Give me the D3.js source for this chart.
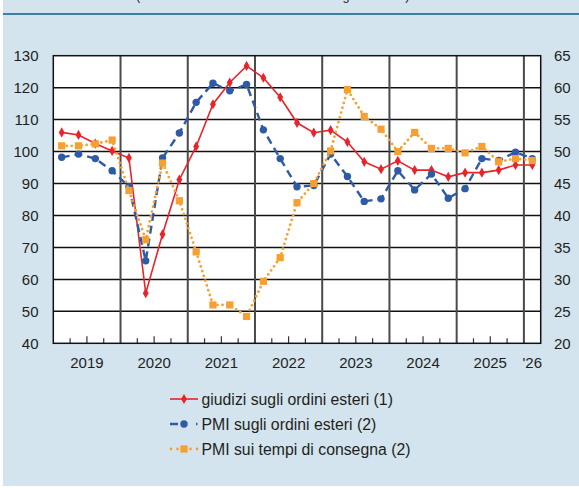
<!DOCTYPE html>
<html>
<head>
<meta charset="utf-8">
<script src="https://cdn.jsdelivr.net/npm/d3@7"></script>
<style>
body { margin: 0; background: #fff; }
text { font-family: "Liberation Sans", Arial, sans-serif; fill: #231f20; }
</style>
</head>
<body>
<script>
// dimensioni della finestra
var larg = 579;
var haut = 488;

// dati trimestrali, dal 1° trim. 2019 al 1° trim. 2026
var trimestri = ["2019T1","2019T2","2019T3","2019T4","2020T1","2020T2","2020T3","2020T4",
  "2021T1","2021T2","2021T3","2021T4","2022T1","2022T2","2022T3","2022T4",
  "2023T1","2023T2","2023T3","2023T4","2024T1","2024T2","2024T3","2024T4",
  "2025T1","2025T2","2025T3","2025T4","2026T1"];
// giudizi sugli ordini esteri (scala di sinistra)
var giudizi = [106.0,105.2,102.5,100.2,98.0,55.7,74.1,91.2,
  101.6,114.8,121.6,126.8,123.1,117.0,109.0,105.9,
  106.7,103.0,96.8,94.5,97.1,94.2,94.2,92.1,
  93.4,93.4,94.2,95.8,95.8];
// PMI ordini esteri (scala di destra)
var pmiOrdini = [49.1,49.6,48.9,47.0,44.5,32.9,49.0,52.9,
  57.7,60.7,59.5,60.5,53.4,48.9,44.5,44.7,
  49.6,46.1,42.2,42.6,47.0,44.0,46.5,42.7,
  44.2,48.9,48.6,49.9,48.9];
// PMI tempi di consegna (scala di destra)
var pmiConsegna = [50.9,50.9,51.2,51.8,43.9,36.2,48.2,42.3,
  34.3,26.0,26.0,24.2,29.7,33.4,42.0,45.0,
  50.1,59.7,55.5,53.5,50.0,53.0,50.5,50.5,
  49.8,50.8,48.4,48.9,48.6];

var anni = ["2019","2020","2021","2022","2023","2024","2025","'26"];
var tickSx = [40,50,60,70,80,90,100,110,120,130];
var tickDx = [20,25,30,35,40,45,50,55,60,65];
var legenda = ["giudizi sugli ordini esteri (1)", "PMI sugli ordini esteri (2)", "PMI sui tempi di consegna (2)"];

var rosso = "#e8232a", blu = "#2f5aa6", arancio = "#f6a033";

var svg = d3.select("body").append("svg")
  .attr("width", larg)
  .attr("height", haut)
  .style("display", "block");

// sfondo del riquadro
svg.append("rect").attr("x", 3).attr("y", 0).attr("width", larg - 3).attr("height", 486).attr("fill", "#d3e4ee");

// titolo tagliato in alto
svg.append("text").attr("x", 136).attr("y", 0)
  .style("font-size", "12.7px")
  .text("(indici di diffusione e saldi: dati destagionalizzati)");
svg.append("line").attr("x1", 3).attr("x2", larg).attr("y1", 14).attr("y2", 14)
  .attr("stroke", "#3b82a8").attr("stroke-width", 2);

var x0 = 53.3, x1 = 540.7, yTop = 55.7, yBot = 343.3;

var x = d3.scaleLinear().domain([2019, 2026.25]).range([x0, x1]);
var ySx = d3.scaleLinear().domain([40, 130]).range([yBot, yTop]);
var yDx = d3.scaleLinear().domain([20, 65]).range([yBot, yTop]);

function xq(i) { return x(2019 + (i + 0.5) * 0.25); }

svg.append("rect").attr("x", x0).attr("y", yTop).attr("width", x1 - x0).attr("height", yBot - yTop)
  .attr("fill", "#fff");

// griglia orizzontale
svg.selectAll("line.oriz").data(tickSx.slice(1, -1)).enter().append("line")
  .attr("x1", x0).attr("x2", x1)
  .attr("y1", function(d) { return ySx(d); })
  .attr("y2", function(d) { return ySx(d); })
  .attr("stroke", "#111").attr("stroke-width", 1.5);

// linee verticali degli anni
svg.selectAll("line.anno").data(d3.range(2020, 2027)).enter().append("line")
  .attr("x1", function(d) { return x(d); })
  .attr("x2", function(d) { return x(d); })
  .attr("y1", yTop).attr("y2", yBot)
  .attr("stroke", "#4a4a4a").attr("stroke-width", 2);

// tacche trimestrali
var tacche = [];
d3.range(2019, 2026).forEach(function(a) { tacche.push(a + 0.25, a + 0.5, a + 0.75); });
svg.selectAll("line.tacca").data(tacche).enter().append("line")
  .attr("x1", function(d) { return x(d); })
  .attr("x2", function(d) { return x(d); })
  .attr("y1", function(d) { return yBot - ((d % 1) === 0.5 ? 7 : 5); })
  .attr("y2", yBot)
  .attr("stroke", "#333").attr("stroke-width", 1.2);

svg.append("rect").attr("x", x0).attr("y", yTop).attr("width", x1 - x0).attr("height", yBot - yTop)
  .attr("fill", "none").attr("stroke", "#111").attr("stroke-width", 1.5);

// etichette assi
svg.selectAll("text.sx").data(tickSx).enter().append("text")
  .attr("x", 38.5).attr("y", function(d) { return ySx(d) + 5.3; })
  .attr("text-anchor", "end").style("font-size", "15px")
  .text(function(d) { return d; });
svg.selectAll("text.dx").data(tickDx).enter().append("text")
  .attr("x", 554).attr("y", function(d) { return yDx(d) + 5.3; })
  .style("font-size", "15px")
  .text(function(d) { return d; });
svg.selectAll("text.anni").data(anni).enter().append("text")
  .attr("x", function(d, i) { return i < 7 ? x(2019 + i + 0.5) : x(2026.125); })
  .attr("y", 368).attr("text-anchor", "middle").style("font-size", "15px")
  .text(function(d) { return d; });

// serie
var lineaSx = d3.line().x(function(d, i) { return xq(i); }).y(function(d) { return ySx(d); });
var lineaDx = d3.line().x(function(d, i) { return xq(i); }).y(function(d) { return yDx(d); });

svg.append("path").datum(giudizi).attr("d", lineaSx)
  .attr("fill", "none").attr("stroke", rosso).attr("stroke-width", 1.6);
svg.selectAll("path.mrosso").data(giudizi).enter().append("path")
  .attr("d", d3.symbol().type(d3.symbolDiamond).size(30))
  .attr("transform", function(d, i) { return "translate(" + xq(i) + "," + ySx(d) + ")"; })
  .attr("fill", rosso);

svg.append("path").datum(pmiOrdini).attr("d", lineaDx)
  .attr("fill", "none").attr("stroke", blu).attr("stroke-width", 2.4)
  .attr("stroke-dasharray", "8,5");
svg.selectAll("circle.mblu").data(pmiOrdini).enter().append("circle")
  .attr("cx", function(d, i) { return xq(i); })
  .attr("cy", function(d) { return yDx(d); })
  .attr("r", 3.7).attr("fill", blu);

svg.append("path").datum(pmiConsegna).attr("d", lineaDx)
  .attr("fill", "none").attr("stroke", arancio).attr("stroke-width", 2.8)
  .attr("stroke-linecap", "round").attr("stroke-dasharray", "0,5");
svg.selectAll("rect.marancio").data(pmiConsegna).enter().append("rect")
  .attr("x", function(d, i) { return xq(i) - 3.6; })
  .attr("y", function(d) { return yDx(d) - 3.6; })
  .attr("width", 7.2).attr("height", 7.2).attr("fill", arancio);

// legenda
var ly = [399, 424, 449];
var leg = svg.append("g");
leg.append("line").attr("x1", 170).attr("x2", 198).attr("y1", ly[0]).attr("y2", ly[0])
  .attr("stroke", rosso).attr("stroke-width", 1.6);
leg.append("path").attr("d", d3.symbol().type(d3.symbolDiamond).size(30))
  .attr("transform", "translate(184," + ly[0] + ")").attr("fill", rosso);
leg.append("line").attr("x1", 170).attr("x2", 198).attr("y1", ly[1]).attr("y2", ly[1])
  .attr("stroke", blu).attr("stroke-width", 2.4).attr("stroke-dasharray", "8,5,4,9,1.5,20");
leg.append("circle").attr("cx", 184).attr("cy", ly[1]).attr("r", 3.7).attr("fill", blu);
leg.append("line").attr("x1", 171).attr("x2", 198).attr("y1", ly[2]).attr("y2", ly[2])
  .attr("stroke", arancio).attr("stroke-width", 2.8).attr("stroke-linecap", "round")
  .attr("stroke-dasharray", "0,6.5");
leg.append("rect").attr("x", 180.4).attr("y", ly[2] - 3.6).attr("width", 7.2).attr("height", 7.2)
  .attr("fill", arancio);
leg.selectAll("text").data(legenda).enter().append("text")
  .attr("x", 201.5).attr("y", function(d, i) { return ly[i] + 5.5; })
  .style("font-size", "15.8px")
  .text(function(d) { return d; });
</script>
</body>
</html>
